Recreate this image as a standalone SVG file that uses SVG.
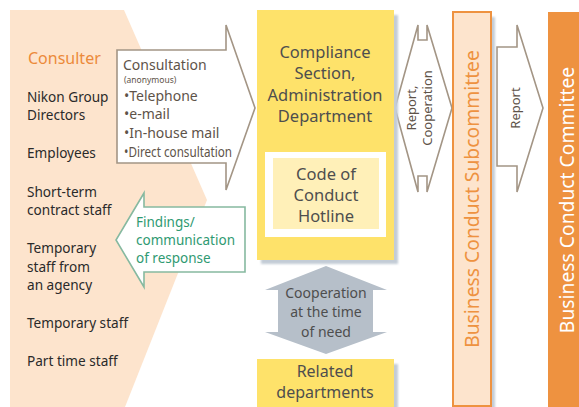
<svg xmlns="http://www.w3.org/2000/svg" width="579" height="407" viewBox="0 0 579 407">
<style>
text{font-family:"Noto Sans","Liberation Sans",sans-serif}
.lst{font-size:13.6px;fill:#2a2a2a}
.cons{font-size:14px;fill:#5e5349}
.grn{font-size:13.5px;fill:#2f9a72}
.yel{fill:#fee26a}
.ctr{text-anchor:middle;fill:#4e4e4e}
.arr{fill:#fff;stroke:#a39585;stroke-width:1.6}
.sh{fill:#c3ccd6;filter:url(#blur)}
</style>
<defs>
<filter id="blur" x="-20%" y="-20%" width="140%" height="140%"><feGaussianBlur stdDeviation="1.2"/></filter>
</defs>
<g id="consulters">
<polygon points="10,10 124,10 207,200 125,407 10,407" fill="#fde4cd"/>
<text x="28" y="64" style="font-size:16px;fill:#ec8a3a">Consulter</text>
<text class="lst" x="27" y="102">Nikon Group</text>
<text class="lst" x="27" y="120">Directors</text>
<text class="lst" x="27" y="158">Employees</text>
<text class="lst" x="27" y="197">Short-term</text>
<text class="lst" x="27" y="215">contract staff</text>
<text class="lst" x="27" y="253">Temporary</text>
<text class="lst" x="27" y="272">staff from</text>
<text class="lst" x="27" y="290">an agency</text>
<text class="lst" x="27" y="328">Temporary staff</text>
<text class="lst" x="27" y="366">Part time staff</text>
</g>
<g id="connectors">
<g id="consultation">
<path class="arr" d="M117,50 H226 V25 L255,108 L226,190 V163 H117 Z"/>
<text class="cons" x="123" y="70">Consultation</text>
<text class="cons" x="124" y="83" style="font-size:8.5px">(anonymous)</text>
<text class="cons" x="124" y="101">•Telephone</text>
<text class="cons" x="124" y="119">•e-mail</text>
<text class="cons" x="124" y="138">•In-house mail</text>
<text class="cons" x="124" y="157" textLength="108" lengthAdjust="spacingAndGlyphs">•Direct consultation</text>
</g>
<g id="findings">
<path d="M245,207 H144 V193 L116,240 L144,287 V272 H245 Z" fill="#fff" stroke="#86b9a0" stroke-width="1.6"/>
<text class="grn" x="136" y="227">Findings/</text>
<text class="grn" x="136" y="245">communication</text>
<text class="grn" x="136" y="263">of response</text>
</g>
<g id="cooperation">
<path d="M326,266 L387,290 H373 V332 H387 L326,354 L265,332 H278 V290 H265 Z" fill="#b6bfc9"/>
<text class="ctr" x="326" y="298" style="font-size:14px">Cooperation</text>
<text class="ctr" x="326" y="317" style="font-size:14px">at the time</text>
<text class="ctr" x="326" y="337" style="font-size:14px">of need</text>
</g>
<g id="report-cooperation">
<path class="arr" d="M395,108 L418,25 V40 H427 V25 L452,108 L427,192 V176 H418 V192 Z"/>
<text transform="translate(416,108) rotate(-90)" text-anchor="middle" style="font-size:13px;fill:#5e5349">Report,</text>
<text transform="translate(432,108) rotate(-90)" text-anchor="middle" style="font-size:13px;fill:#5e5349">Cooperation</text>
</g>
<g id="report">
<path class="arr" d="M497,47 H517 V25 L543,108 L517,192 V166 H497 Z"/>
<text transform="translate(520,108) rotate(-90)" text-anchor="middle" style="font-size:13px;fill:#5e5349">Report</text>
</g>
</g>
<g id="compliance">
<rect class="sh" x="261" y="15" width="137" height="249"/>
<rect class="yel" x="257" y="10" width="137" height="250"/>
<text class="ctr" x="325" y="58" style="font-size:16.5px">Compliance</text>
<text class="ctr" x="325" y="79" style="font-size:16.5px">Section,</text>
<text class="ctr" x="325" y="101" style="font-size:16.5px">Administration</text>
<text class="ctr" x="325" y="122" style="font-size:16.5px">Department</text>
</g>
<g id="hotline">
<rect x="265" y="152" width="121" height="85" fill="#fff"/>
<rect x="273" y="158" width="106" height="71" fill="#fff0b8"/>
<text class="ctr" x="326" y="180" style="font-size:16.5px">Code of</text>
<text class="ctr" x="326" y="201" style="font-size:16.5px">Conduct</text>
<text class="ctr" x="326" y="222" style="font-size:16.5px">Hotline</text>
</g>
<g id="related">
<rect class="sh" x="261" y="364" width="137" height="50"/>
<rect class="yel" x="257" y="359" width="137" height="50"/>
<text class="ctr" x="325" y="377" style="font-size:16px">Related</text>
<text class="ctr" x="325" y="398" style="font-size:16px">departments</text>
</g>
<g id="subcommittee">
<rect class="sh" x="457" y="17" width="38" height="394"/>
<rect x="453" y="12" width="38" height="394" fill="#fde4cd" stroke="#ee9240" stroke-width="2"/>
<text transform="translate(479,199) rotate(-90)" text-anchor="middle" style="font-size:19.3px;fill:#ee9240">Business Conduct Subcommittee</text>
</g>
<g id="committee">
<rect x="548" y="12" width="40" height="400" fill="#ee9240"/>
<text transform="translate(574,200) rotate(-90)" text-anchor="middle" style="font-size:19.3px;fill:#fff">Business Conduct Committee</text>
</g>
</svg>
